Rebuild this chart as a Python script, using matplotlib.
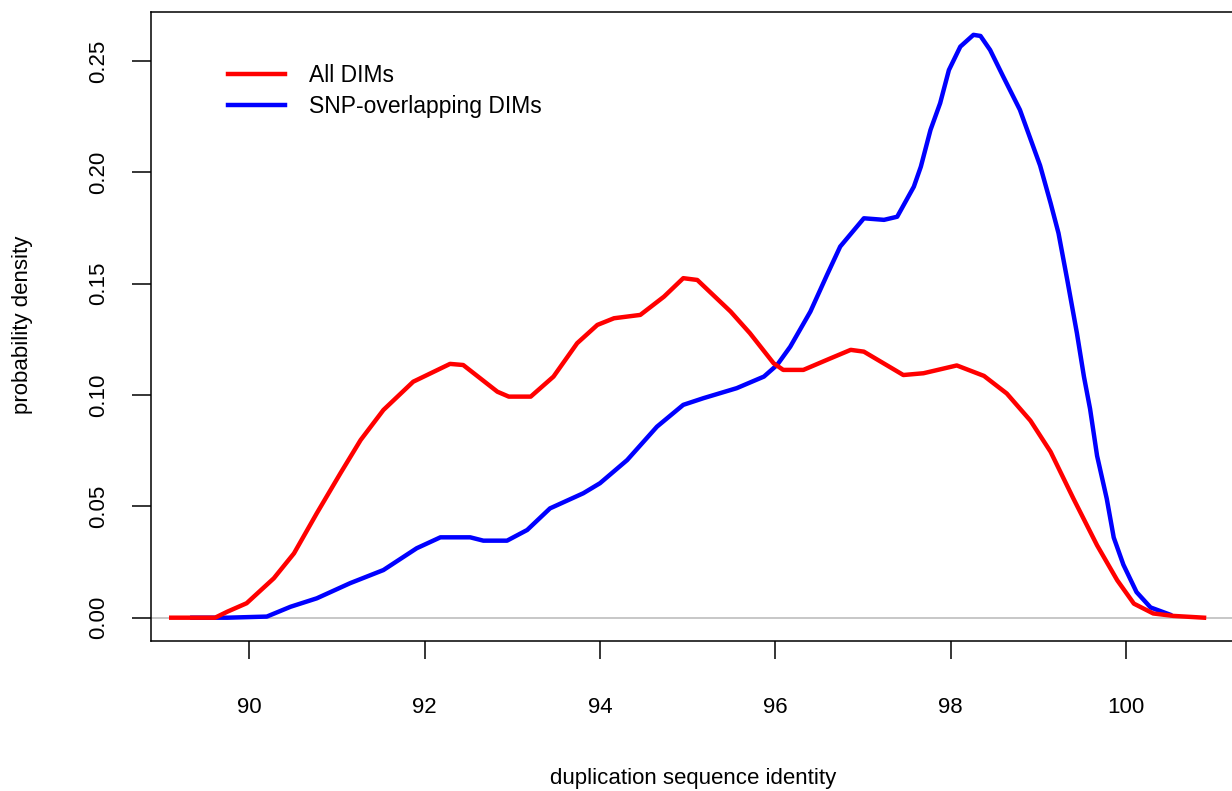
import matplotlib
matplotlib.use('Agg')
import matplotlib.pyplot as plt

plt.rcParams['font.family'] = ['Liberation Sans', 'DejaVu Sans']

# density estimates
all_x = [89.11, 89.61, 89.75, 89.97, 90.28, 90.51, 90.77, 91.04, 91.27, 91.53,
         91.87, 92.29, 92.44, 92.83, 92.96, 93.21, 93.47, 93.74, 93.97, 94.16,
         94.46, 94.73, 94.95, 95.11, 95.49, 95.71, 95.98, 96.09, 96.32, 96.63,
         96.86, 97.01, 97.46, 97.69, 98.07, 98.38, 98.64, 98.91, 99.14, 99.40,
         99.67, 99.90, 100.09, 100.31, 100.54, 100.89]
all_y = [0.0, 0.0, 0.0027, 0.0065, 0.0177, 0.0289, 0.0469, 0.0649, 0.0798, 0.0933,
         0.1060, 0.1140, 0.1135, 0.1015, 0.0993, 0.0993, 0.1083, 0.1233, 0.1315, 0.1345,
         0.1360, 0.1442, 0.1525, 0.1517, 0.1375, 0.1278, 0.1143, 0.1113, 0.1113, 0.1165,
         0.1203, 0.1195, 0.1090, 0.1098, 0.1133, 0.1086, 0.1007, 0.0885, 0.0745, 0.0535,
         0.0325, 0.0168, 0.0063, 0.0019, 0.0008, 0.0]

snp_x = [89.35, 89.75, 90.20, 90.47, 90.77, 91.15, 91.53, 91.91, 92.18, 92.52,
         92.67, 92.94, 93.17, 93.43, 93.81, 94.00, 94.31, 94.65, 94.95, 95.18,
         95.56, 95.87, 96.02, 96.17, 96.40, 96.59, 96.74, 97.01, 97.24, 97.39,
         97.58, 97.66, 97.77, 97.88, 97.98, 98.11, 98.26, 98.34, 98.45, 98.60,
         98.79, 99.02, 99.14, 99.23, 99.33, 99.44, 99.52, 99.59, 99.67, 99.78,
         99.86, 99.97, 100.12, 100.28, 100.50]
snp_y = [0.0, 0.0, 0.0005, 0.0049, 0.0087, 0.0155, 0.0214, 0.0312, 0.0361, 0.0361,
         0.0346, 0.0346, 0.0394, 0.0491, 0.0559, 0.0604, 0.0708, 0.0858, 0.0956, 0.0986,
         0.1031, 0.1083, 0.1135, 0.1217, 0.1375, 0.1540, 0.1667, 0.1794, 0.1787, 0.1801,
         0.1936, 0.2026, 0.2191, 0.2311, 0.2460, 0.2565, 0.2618, 0.2613, 0.2550, 0.2430,
         0.2281, 0.2031, 0.1862, 0.1727, 0.1517, 0.1278, 0.1083, 0.0938, 0.0727, 0.0535,
         0.0360, 0.0238, 0.0115, 0.0046, 0.0014]

x_ticks = [90, 92, 94, 96, 98, 100]
y_ticks = [0.00, 0.05, 0.10, 0.15, 0.20, 0.25]
y_tick_labels = ['0.00', '0.05', '0.10', '0.15', '0.20', '0.25']

fig = plt.figure(figsize=(12.32, 7.91), dpi=100)
ax = fig.add_axes([0.12256, 0.18963, 0.87987, 0.79520])

ax.axhline(0, color='#BEBEBE', lw=1.2, zorder=1)
l_snp, = ax.plot(snp_x, snp_y, color='blue', lw=3.2, zorder=2)
l_all, = ax.plot(all_x, all_y, color='red', lw=3.2, zorder=3)

ax.set_xlim(88.879, 101.243)
ax.set_ylim(-0.01047, 0.27206)

ax.set_xticks(x_ticks)
ax.set_xticklabels([str(v) for v in x_ticks])
ax.set_yticks(y_ticks)
ax.set_yticklabels(y_tick_labels, rotation=90, va='center')
ax.tick_params(axis='x', length=13, width=1.1, pad=27, labelsize=16, direction='out')
ax.tick_params(axis='y', length=14, width=1.1, pad=16, labelsize=16, direction='out')
for s in ax.spines.values():
    s.set_linewidth(1.1)

ax.legend([l_all, l_snp], ['All DIMs', 'SNP-overlapping DIMs'],
          loc='upper left', bbox_to_anchor=(0.071, 0.918), frameon=False,
          fontsize=16.5, handlelength=2.5, handletextpad=1.05,
          labelspacing=0.38, borderpad=0, borderaxespad=0)

fig.text(0.5625, 0.0164, 'duplication sequence identity', ha='center', va='center', fontsize=16)
fig.text(0.0179, 0.5891, 'probability density', ha='center', va='center',
         rotation=90, fontsize=16)

fig.savefig('out.png', dpi=100)
